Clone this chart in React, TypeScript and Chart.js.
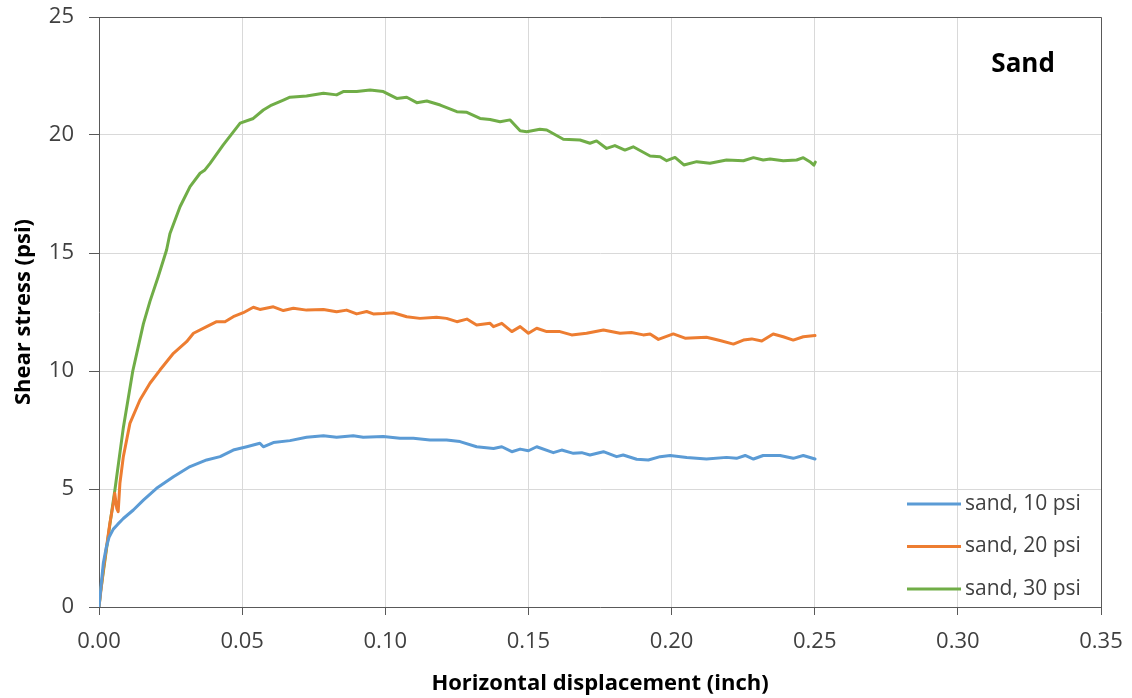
import { useEffect, useRef } from "react";
import { Chart, registerables } from "chart.js";

Chart.register(...registerables);

// ---- data ----
const sand10X = [0, 0.0008, 0.0015, 0.0025, 0.0035, 0.005, 0.0065, 0.0085, 0.012, 0.0155, 0.0201, 0.026, 0.0318, 0.0376, 0.0423, 0.0469, 0.0516, 0.0562, 0.0574, 0.0609, 0.0667, 0.0725, 0.0784, 0.083, 0.0888, 0.0923, 0.0993, 0.1051, 0.1098, 0.1156, 0.1214, 0.1261, 0.1319, 0.1378, 0.1407, 0.1442, 0.1471, 0.15, 0.1529, 0.1587, 0.1616, 0.1657, 0.1686, 0.1715, 0.1762, 0.1808, 0.1831, 0.1878, 0.1919, 0.196, 0.1995, 0.2053, 0.2122, 0.2192, 0.2227, 0.2257, 0.2286, 0.232, 0.2379, 0.2425, 0.246, 0.2501];
const sand10Y = [0, 1.0, 1.85, 2.5, 2.95, 3.3, 3.5, 3.75, 4.11, 4.53, 5.03, 5.52, 5.95, 6.23, 6.37, 6.65, 6.79, 6.94, 6.79, 6.97, 7.05, 7.19, 7.26, 7.19, 7.26, 7.19, 7.22, 7.15, 7.15, 7.08, 7.08, 7.01, 6.79, 6.72, 6.79, 6.58, 6.69, 6.62, 6.79, 6.54, 6.65, 6.51, 6.54, 6.44, 6.58, 6.37, 6.44, 6.26, 6.23, 6.37, 6.42, 6.33, 6.27, 6.34, 6.3, 6.42, 6.27, 6.42, 6.42, 6.3, 6.42, 6.27];

const sand20X = [0, 0.0015, 0.0038, 0.005, 0.0055, 0.0062, 0.0067, 0.0073, 0.0085, 0.0108, 0.0143, 0.0178, 0.0213, 0.026, 0.0306, 0.033, 0.0376, 0.0411, 0.044, 0.0469, 0.0504, 0.0539, 0.0562, 0.0609, 0.0644, 0.0679, 0.0725, 0.0784, 0.083, 0.0865, 0.09, 0.0935, 0.0958, 0.0993, 0.1028, 0.1075, 0.1121, 0.1179, 0.1214, 0.125, 0.1285, 0.1319, 0.1366, 0.1378, 0.1407, 0.1442, 0.1471, 0.15, 0.1529, 0.1564, 0.161, 0.1651, 0.1703, 0.1762, 0.182, 0.186, 0.1901, 0.1925, 0.1954, 0.2006, 0.2047, 0.2122, 0.2169, 0.2216, 0.2251, 0.228, 0.2315, 0.2355, 0.239, 0.2425, 0.246, 0.2501];
const sand20Y = [0, 1.57, 3.55, 4.39, 4.82, 4.18, 4.04, 5.24, 6.37, 7.78, 8.77, 9.48, 10.04, 10.75, 11.24, 11.6, 11.88, 12.09, 12.09, 12.3, 12.47, 12.7, 12.61, 12.72, 12.56, 12.66, 12.58, 12.61, 12.51, 12.58, 12.42, 12.52, 12.42, 12.44, 12.47, 12.3, 12.23, 12.28, 12.23, 12.09, 12.2, 11.95, 12.02, 11.88, 12.02, 11.67, 11.88, 11.6, 11.81, 11.67, 11.67, 11.53, 11.6, 11.74, 11.6, 11.63, 11.53, 11.57, 11.34, 11.57, 11.39, 11.43, 11.29, 11.14, 11.31, 11.36, 11.27, 11.57, 11.45, 11.31, 11.45, 11.5];

const sand30X = [0, 0.0005, 0.0021, 0.0038, 0.0056, 0.0085, 0.0118, 0.0155, 0.0178, 0.0207, 0.0236, 0.0248, 0.0283, 0.0318, 0.0353, 0.037, 0.0388, 0.0434, 0.0493, 0.0539, 0.0574, 0.0603, 0.0644, 0.0667, 0.0725, 0.0784, 0.083, 0.0853, 0.09, 0.0947, 0.0993, 0.104, 0.1075, 0.111, 0.1145, 0.1192, 0.125, 0.1285, 0.1331, 0.1366, 0.1401, 0.1436, 0.1471, 0.1494, 0.154, 0.1564, 0.1622, 0.168, 0.1715, 0.1738, 0.1773, 0.1802, 0.1837, 0.1866, 0.1925, 0.196, 0.1983, 0.2012, 0.2043, 0.2088, 0.2134, 0.2192, 0.2251, 0.2286, 0.232, 0.2344, 0.239, 0.2437, 0.246, 0.2483, 0.2497, 0.2502];
const sand30Y = [0, 0.6, 2.0, 3.5, 5.0, 7.6, 10.0, 12.0, 12.95, 14.0, 15.13, 15.83, 16.96, 17.81, 18.38, 18.52, 18.8, 19.58, 20.5, 20.7, 21.06, 21.27, 21.48, 21.6, 21.65, 21.77, 21.7, 21.84, 21.84, 21.91, 21.84, 21.55, 21.6, 21.37, 21.44, 21.27, 20.99, 20.96, 20.7, 20.66, 20.56, 20.64, 20.18, 20.14, 20.24, 20.21, 19.82, 19.79, 19.65, 19.75, 19.43, 19.55, 19.36, 19.5, 19.11, 19.08, 18.91, 19.05, 18.73, 18.87, 18.8, 18.94, 18.91, 19.04, 18.94, 18.98, 18.91, 18.94, 19.04, 18.87, 18.72, 18.85];

const seriesLabels = ["sand, 10 psi", "sand, 20 psi", "sand, 30 psi"];
const seriesColors = ["#5B9BD5", "#ED7D31", "#70AD47"];
const xTickValues = [0, 0.05, 0.1, 0.15, 0.2, 0.25, 0.3, 0.35];
const yTickValues = [0, 5, 10, 15, 20, 25];
const xTitle = "Horizontal displacement (inch)";
const yTitle = "Shear stress (psi)";
const panelLabel = "Sand";
const panelLabelPos = { x: 0.3228, y: 22.97 };

const FONT = "'Open Sans', 'Noto Sans', sans-serif";
const AXIS_COLOR = "#595959";
const GRID_COLOR = "#d9d9d9";
const TEXT_COLOR = "#404040";

export default function App() {
  const canvasRef = useRef<HTMLCanvasElement | null>(null);

  useEffect(() => {
    document.body.style.margin = "0";
    const canvas = canvasRef.current;
    if (!canvas) return;

    const toPoints = (xs: number[], ys: number[]) => xs.map((x, i) => ({ x, y: ys[i] }));
    const seriesX = [sand10X, sand20X, sand30X];
    const seriesY = [sand10Y, sand20Y, sand30Y];

    const framePlugin = {
      id: "frame",
      afterDraw(chart: any) {
        const { ctx, chartArea } = chart;
        ctx.save();
        ctx.strokeStyle = AXIS_COLOR;
        ctx.lineWidth = 1;
        ctx.beginPath();
        ctx.moveTo(Math.round(chartArea.left) + 0.5, Math.round(chartArea.top) + 0.5);
        ctx.lineTo(Math.round(chartArea.right) + 0.5, Math.round(chartArea.top) + 0.5);
        ctx.lineTo(Math.round(chartArea.right) + 0.5, Math.round(chartArea.bottom) + 0.5);
        ctx.stroke();
        ctx.restore();
      },
    };

    const labelPlugin = {
      id: "panelLabel",
      afterDraw(chart: any) {
        const { ctx } = chart;
        const px = chart.scales.x.getPixelForValue(panelLabelPos.x);
        const py = chart.scales.y.getPixelForValue(panelLabelPos.y);
        ctx.save();
        ctx.font = `bold 26px ${FONT}`;
        ctx.fillStyle = "#000000";
        ctx.textAlign = "center";
        ctx.textBaseline = "middle";
        ctx.fillText(panelLabel, px, py);
        ctx.restore();
      },
    };

    const legendPlugin = {
      id: "insideLegend",
      afterDraw(chart: any) {
        const { ctx, chartArea } = chart;
        ctx.save();
        chart.data.datasets.forEach((ds: any, i: number) => {
          const y = chartArea.bottom - 103 + i * 42.5;
          ctx.strokeStyle = ds.borderColor;
          ctx.lineWidth = 3;
          ctx.lineCap = "butt";
          ctx.beginPath();
          ctx.moveTo(chartArea.right - 194, y);
          ctx.lineTo(chartArea.right - 140, y);
          ctx.stroke();
          ctx.fillStyle = TEXT_COLOR;
          ctx.font = `21px ${FONT}`;
          ctx.textAlign = "left";
          ctx.textBaseline = "middle";
          ctx.fillText(ds.label, chartArea.right - 136, y);
        });
        ctx.restore();
      },
    };

    const chart = new Chart(canvas, {
      type: "line",
      data: {
        datasets: seriesLabels.map((label, i) => ({
          label,
          data: toPoints(seriesX[i], seriesY[i]),
          borderColor: seriesColors[i],
          backgroundColor: seriesColors[i],
          borderWidth: 3,
          pointRadius: 0,
          tension: 0,
          fill: false,
          borderJoinStyle: "round" as const,
          borderCapStyle: "round" as const,
        })),
      },
      options: {
        animation: false,
        responsive: true,
        maintainAspectRatio: false,
        devicePixelRatio: 1,
        layout: { padding: { top: 17, right: 31, left: 0, bottom: 0 } },
        plugins: {
          legend: { display: false },
          tooltip: { enabled: false },
        },
        scales: {
          x: {
            type: "linear",
            min: 0,
            max: 0.35,
            afterBuildTicks: (scale: any) => {
              scale.ticks = xTickValues.map((v) => ({ value: v }));
            },
            afterFit: (scale: any) => {
              scale.height = 91;
              scale.paddingLeft = 0;
              scale.paddingRight = 0;
            },
            grid: { color: GRID_COLOR, lineWidth: 1, tickColor: AXIS_COLOR, tickLength: 8 },
            border: { display: true, color: AXIS_COLOR, width: 1 },
            ticks: {
              color: TEXT_COLOR,
              font: { family: FONT, size: 22 },
              padding: 14,
              maxRotation: 0,
              autoSkip: false,
              callback: (v: any) => Number(v).toFixed(2),
            },
            title: {
              display: true,
              text: xTitle,
              color: "#000000",
              font: { family: FONT, size: 22, weight: "bold" },
              padding: { top: 0, bottom: 1 },
            },
          },
          y: {
            type: "linear",
            min: 0,
            max: 25,
            afterBuildTicks: (scale: any) => {
              scale.ticks = yTickValues.map((v) => ({ value: v }));
            },
            afterFit: (scale: any) => {
              scale.width = 99;
              scale.paddingTop = 0;
              scale.paddingBottom = 0;
            },
            grid: { color: GRID_COLOR, lineWidth: 1, tickColor: AXIS_COLOR, tickLength: 10 },
            border: { display: true, color: AXIS_COLOR, width: 1 },
            ticks: {
              color: TEXT_COLOR,
              font: { family: FONT, size: 22 },
              padding: 15,
              autoSkip: false,
              callback: (v: any) => String(v),
            },
            title: {
              display: true,
              text: yTitle,
              color: "#000000",
              font: { family: FONT, size: 22, weight: "bold" },
              padding: { top: 11, bottom: 0 },
            },
          },
        },
      },
      plugins: [framePlugin, labelPlugin, legendPlugin],
    });

    return () => chart.destroy();
  }, []);

  return (
    <div style={{ position: "absolute", left: 0, top: 0, width: 1132, height: 698 }}>
      <canvas ref={canvasRef} />
    </div>
  );
}
